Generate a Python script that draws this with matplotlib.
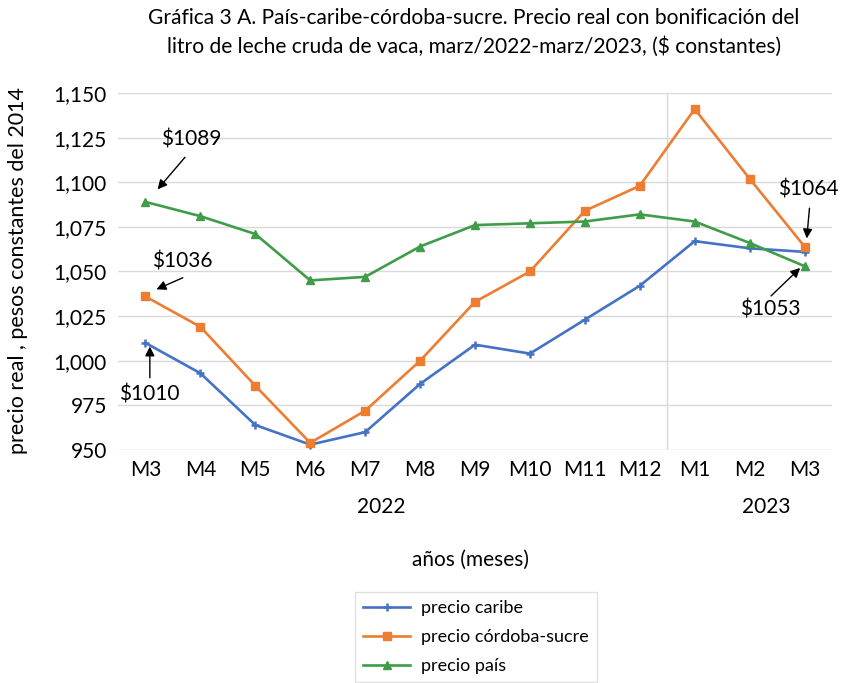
import matplotlib
matplotlib.use("Agg")
import matplotlib.pyplot as plt

months = ["M3", "M4", "M5", "M6", "M7", "M8", "M9", "M10", "M11", "M12", "M1", "M2", "M3"]
caribe = [1010, 993, 964, 953, 960, 987, 1009, 1004, 1023, 1042, 1067, 1063, 1061]
cordoba_sucre = [1036, 1019, 986, 954, 972, 1000, 1033, 1050, 1084, 1098, 1141, 1102, 1064]
pais = [1089, 1081, 1071, 1045, 1047, 1064, 1076, 1077, 1078, 1082, 1078, 1066, 1053]
yticks = [950, 975, 1000, 1025, 1050, 1075, 1100, 1125, 1150]
years = ["2022", "2023"]

plt.rcParams['font.family'] = ['Lato', 'DejaVu Sans']

fig = plt.figure(figsize=(8.41, 6.83), dpi=100)
ax = fig.add_axes([118/841, 1-450/683, 714/841, 357/683])

x = list(range(len(months)))
c_blue, c_orange, c_green = "#4472C4", "#ED7D31", "#3F9C48"
ax.plot(x, caribe, color=c_blue, lw=1.9, marker="+", ms=6, mew=1.8, label="precio caribe", zorder=3)
ax.plot(x, cordoba_sucre, color=c_orange, lw=1.9, marker="s", ms=5.5, label="precio córdoba-sucre", zorder=3)
ax.plot(x, pais, color=c_green, lw=1.9, marker="^", ms=6, label="precio país", zorder=3)

ax.set_xlim(-0.5, len(months) - 0.5)
ax.set_ylim(950, 1150)
ax.set_yticks(yticks)
ax.set_yticklabels([f"{v:,}" for v in yticks], fontsize=15)
ax.set_xticks(x)
ax.set_xticklabels(months, fontsize=15)
ax.tick_params(length=0, pad=7)
ax.tick_params(axis='y', pad=8)
for s in ax.spines.values():
    s.set_visible(False)
ax.grid(axis='y', color="#D9D9D9", lw=1)
ax.set_axisbelow(True)
ax.axvline(9.5, color="#D9D9D9", lw=1, zorder=0)

# year labels
ax.text(4.3, -0.16, years[0], transform=ax.get_xaxis_transform(), ha="center", va="center", fontsize=15)
ax.text(11.3, -0.16, years[1], transform=ax.get_xaxis_transform(), ha="center", va="center", fontsize=15)

fig.text(470/841, 1-560/683, "años (meses)", ha="center", va="center", fontsize=15)
fig.text(18/841, 1-271/683, "precio real , pesos constantes del 2014", rotation=90,
         ha="center", va="center", fontsize=15.5)
fig.text(474/841, 1-32/683,
         "Gráfica 3 A. País-caribe-córdoba-sucre. Precio real con bonificación del\n"
         "litro de leche cruda de vaca, marz/2022-marz/2023, ($ constantes)",
         ha="center", va="center", fontsize=15.1, linespacing=1.5)

# annotations
ap = dict(arrowstyle="-|>", color="black", lw=1, mutation_scale=14, shrinkA=0, shrinkB=0)
ann = [
    ("$1089", (0.83, 1124), (0.72, 1114), (0.22, 1096)),
    ("$1036", (0.67, 1055.5), (0.68, 1046.5), (0.2, 1040)),
    ("$1010", (0.07, 981), (0.08, 990.5), (0.08, 1008)),
    ("$1064", (12.07, 1096), (12.09, 1085.5), (12.04, 1068.5)),
    ("$1053", (11.38, 1028.5), (11.39, 1036.3), (11.92, 1052)),
]
for txt, tpos, tail, head in ann:
    ax.text(tpos[0], tpos[1], txt, ha="center", va="center", fontsize=15, zorder=5)
    ax.annotate("", xy=head, xytext=tail, arrowprops=ap, zorder=5)

leg = fig.legend(loc="upper left", bbox_to_anchor=(346/841, 1-583/683), fontsize=13,
                 frameon=True, fancybox=False, edgecolor="#D9D9D9", handlelength=2.6,
                 handletextpad=0.6, labelspacing=0.72, borderpad=0.45)
leg.get_frame().set_linewidth(1)

fig.savefig("out.png", dpi=100)
